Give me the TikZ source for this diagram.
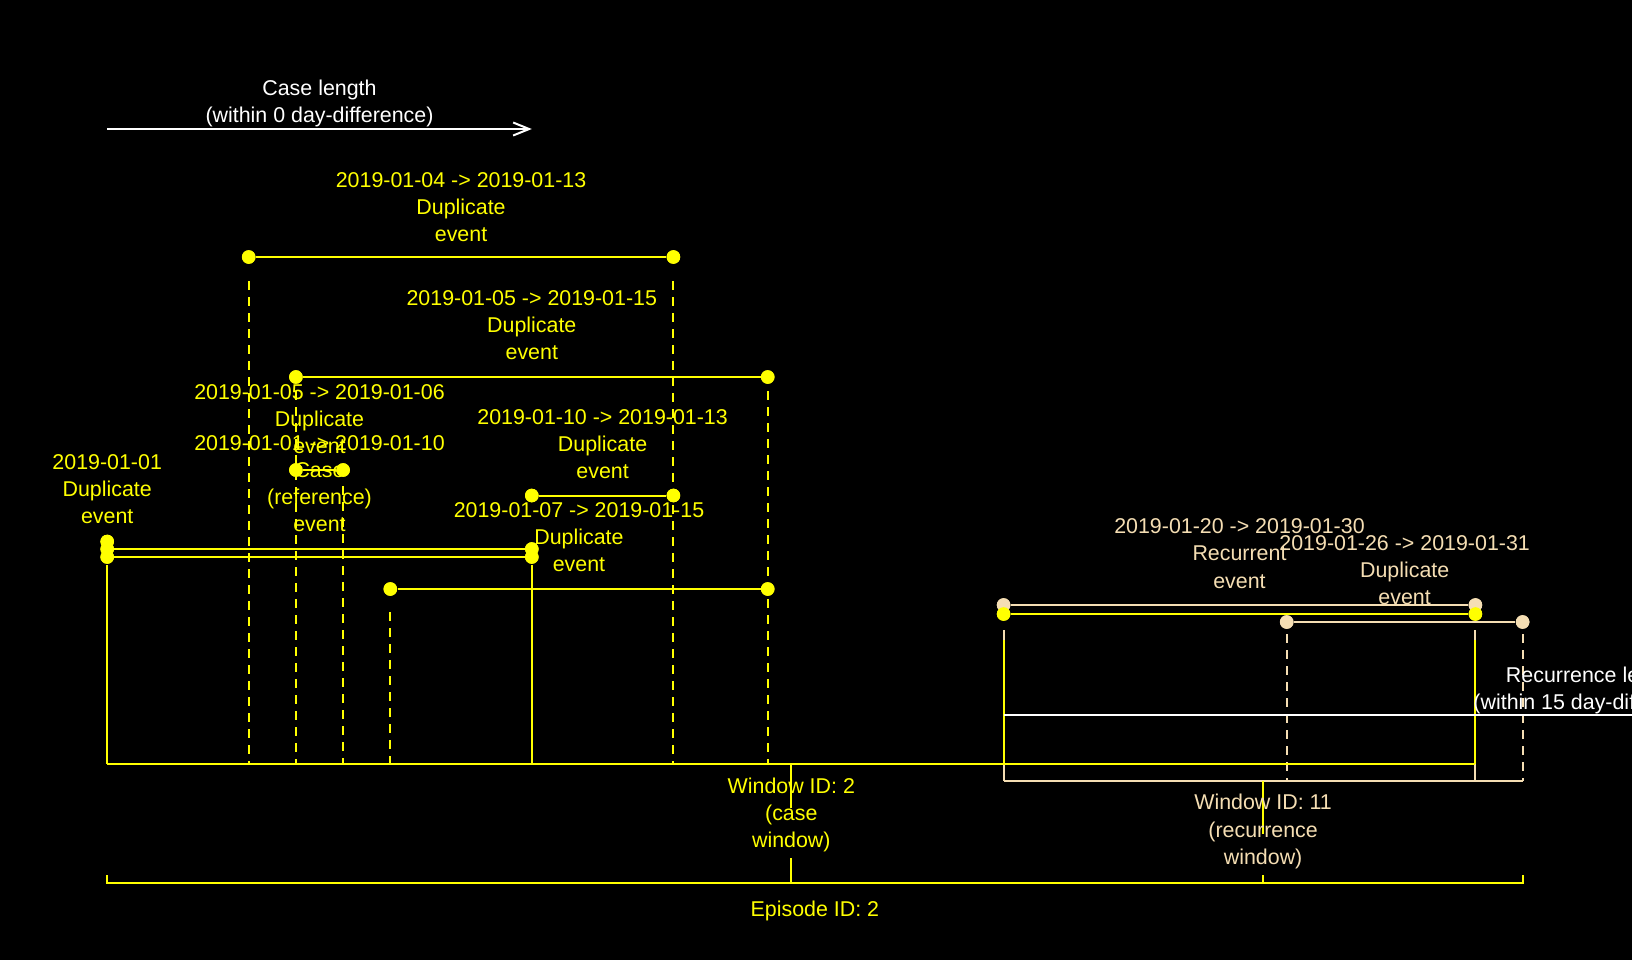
\documentclass[tikz,border=0pt]{standalone}
\usepackage{fontspec}
\setmainfont{Liberation Sans}
\usetikzlibrary{arrows.meta}
\definecolor{evy}{RGB}{255,255,0}
\definecolor{evb}{RGB}{245,222,179}
\begin{document}
\begin{tikzpicture}[x=0.5pt,y=-0.5pt,
  lab/.style={align=center, inner sep=0pt, font=\fontsize{10.7}{13.53}\selectfont},
  ylab/.style={lab, text=evy},
  blab/.style={lab, text=evb},
  wlab/.style={lab, text=white},
  ydot/.style={circle, fill=evy, inner sep=0pt, minimum size=6.8pt},
  bdot/.style={circle, fill=evb, inner sep=0pt, minimum size=6.8pt},
  yline/.style={draw=evy, line width=1pt},
  bline/.style={draw=evb, line width=1pt},
  ydash/.style={draw=evy, line width=1pt, dash pattern=on 4.25pt off 3.75pt},
  bdash/.style={draw=evb, line width=1pt, dash pattern=on 4.25pt off 3.75pt},
  warrow/.style={draw=white, line width=1pt, -{Straight Barb[length=8pt,width=6.5pt]}}
]
\clip (0,0) rectangle (1632,960);
\fill[black] (0,0) rectangle (1632,960);

% bracket reference coordinates
\coordinate (cwL) at (107.2,764);
\coordinate (cwR) at (1475.4,764);
\coordinate (cwC) at (791.3,764);
\coordinate (rwL) at (1003.6,781);
\coordinate (rwR) at (1522.6,781);
\coordinate (rwC) at (1263.1,781);
\coordinate (epL) at (107.2,883);
\coordinate (epR) at (1522.6,883);

% event end points
\node[ydot] (a1) at (248.7,257) {};
\node[ydot] (a2) at (673.4,257) {};
\node[ydot] (b1) at (295.9,377) {};
\node[ydot] (b2) at (767.7,377) {};
\node[ydot] (c1) at (295.9,470) {};
\node[ydot] (c2) at (343.1,470) {};
\node[ydot] (e1) at (531.8,495.5) {};
\node[ydot] (e2) at (673.4,495.5) {};
\node[ydot] (p1) at (107.2,541.5) {};
\node[ydot] (k1) at (107.2,549) {};
\node[ydot] (k2) at (531.8,549) {};
\node[ydot] (l1) at (107.2,557) {};
\node[ydot] (l2) at (531.8,557) {};
\node[ydot] (f1) at (390.3,589) {};
\node[ydot] (f2) at (767.7,589) {};
\node[bdot] (g1) at (1003.6,605) {};
\node[bdot] (g2) at (1475.4,605) {};
\node[ydot] (h1) at (1003.6,614) {};
\node[ydot] (h2) at (1475.4,614) {};
\node[bdot] (i1) at (1286.7,622) {};
\node[bdot] (i2) at (1522.6,622) {};

% vertical guides
\draw[ydash, shorten <=12pt] (a1.center) -- (a1.center |- cwL);
\draw[ydash, shorten <=12pt] (a2.center) -- (a2.center |- cwL);
\draw[ydash, shorten <=7pt] (b1.center) -- (b1.center |- cwL);
\draw[ydash, shorten <=7pt] (b2.center) -- (b2.center |- cwL);
\draw[ydash, shorten <=8pt] (c2.center) -- (c2.center |- cwL);
\draw[ydash, shorten <=11.5pt] (f1.center) -- (f1.center |- cwL);
\draw[yline, shorten <=4pt] (l1.center) -- (cwL);
\draw[yline, shorten <=4pt] (l2.center) -- (l2.center |- cwL);
\draw[bline] ([yshift=-12.5pt]g1.center) -- (rwL);
\draw[bline] ([yshift=-12.5pt]g2.center) -- (g2.center |- rwL);
\draw[bdash, shorten <=6pt] (i1.center) -- (i1.center |- rwL);
\draw[bdash, shorten <=6pt] (i2.center) -- (rwR);
\draw[yline] ([yshift=-13pt]h1.center) -- (h1.center |- cwL);
\draw[yline] ([yshift=-13pt]h2.center) -- (cwR);

% brackets
\draw[bline] (rwL) -- (rwR);
\draw[yline] (cwL) -- (cwR);
\draw[yline] (cwC) -- ++(0,44);
\draw[yline] (cwC |- epL) -- ++(0,-25);
\draw[yline] (rwC) -- ++(0,53);
\draw[yline] (rwC |- epL) -- ++(0,-8);
\draw[yline] ([yshift=4pt]epL) -- (epL) -- (epR) -- ([yshift=4pt]epR);

% events (lines)
\draw[yline] (a1) -- (a2);
\draw[yline] (b1) -- (b2);
\draw[yline] (c1) -- (c2);
\draw[yline] (e1) -- (e2);
\draw[yline] (k1) -- (k2);
\draw[yline] (l1) -- (l2);
\draw[yline] (f1) -- (f2);
\draw[bline] (g1) -- (g2);
\draw[yline] (h1) -- (h2);
\draw[bline] (i1) -- (i2);

% redraw dots on top
\foreach \n in {a1,a2,b1,b2,c1,c2,e1,e2,p1,k1,k2,l1,l2,f1,f2}
  \fill[evy] (\n.center) circle (3.4pt);
\fill[evb] (g1.center) circle (3.4pt);
\fill[evb] (g2.center) circle (3.4pt);
\fill[evy] (h1.center) circle (3.4pt);
\fill[evy] (h2.center) circle (3.4pt);
\fill[evb] (i1.center) circle (3.4pt);
\fill[evb] (i2.center) circle (3.4pt);

% length arrows
\coordinate (cl1) at (107.2,129);
\coordinate (cl2) at (531.8,129);
\draw[warrow] (cl1) -- (cl2);
\coordinate (rl1) at (1003.6,715);
\coordinate (rl2) at (2183,715);
\draw[warrow] (rl1) -- (rl2);

% labels
\node[wlab] (tcase) at (319.5,103) {Case length\\(within 0 day-difference)};
\node[wlab] (trec) at (1593.4,690) {Recurrence length\\(within 15 day-difference)};
\node[ylab] (ta) at (461.05,207) {2019-01-04 -> 2019-01-13\\Duplicate\\event};
\node[ylab] (tb) at (531.8,324.7) {2019-01-05 -> 2019-01-15\\Duplicate\\event};
\node[ylab] (tc) at (319.5,419.4) {2019-01-05 -> 2019-01-06\\Duplicate\\event};
\node[ylab] (tk) at (319.5,483.9) {2019-01-01 -> 2019-01-10\\Case\\(reference)\\event};
\node[ylab] (tp) at (107.2,489) {2019-01-01\\Duplicate\\event};
\node[ylab] (te) at (602.6,444.3) {2019-01-10 -> 2019-01-13\\Duplicate\\event};
\node[ylab] (tf) at (579,537) {2019-01-07 -> 2019-01-15\\Duplicate\\event};
\node[blab] (tg) at (1239.5,553.6) {2019-01-20 -> 2019-01-30\\Recurrent\\event};
\node[blab] (ti) at (1404.65,570.3) {2019-01-26 -> 2019-01-31\\Duplicate\\event};
\node[ylab] (tcw) at (791.3,815) {Window ID: 2\\(case\\window)};
\node[blab] (trw) at (1263.1,831.5) {Window ID: 11\\(recurrence\\window)};
\node[ylab] (tep) at (814.9,911) {Episode ID: 2};
\end{tikzpicture}
\end{document}
